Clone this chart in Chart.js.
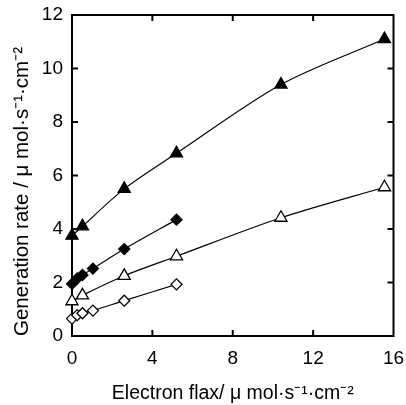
<!DOCTYPE html>
<html>
<head>
<meta charset="utf-8">
<script src="https://cdn.jsdelivr.net/npm/chart.js@4/dist/chart.umd.min.js"></script>
<style>
  html, body { margin: 0; padding: 0; background: #fff; }
  #box { width: 406px; height: 405px; }
</style>
</head>
<body>
<div id="box"><canvas id="grafico" width="406" height="405"></canvas></div>
<script>
// valores
const fluxoTriangulo = [0, 0.52, 2.6, 5.2, 10.4, 15.55];
const fluxoLosango = [0, 0.26, 0.52, 1.04, 2.6, 5.2];

const trianguloCheio = [3.75, 4.1, 5.5, 6.83, 9.4, 11.1];
const trianguloVazio = [1.3, 1.52, 2.25, 2.98, 4.42, 5.56];
const losangoCheio = [1.95, 2.15, 2.28, 2.52, 3.25, 4.35];
const losangoVazio = [0.65, 0.78, 0.85, 0.95, 1.32, 1.93];

const ticksX = [0, 4, 8, 12, 16];
const ticksY = [0, 2, 4, 6, 8, 10, 12];

const tituloX = 'Electron flax/ \u03bc mol\u00b7s\u207b\u00b9\u00b7cm\u207b\u00b2';
const tituloY = 'Generation rate / \u03bc mol\u00b7s\u207b\u00b9\u00b7cm\u207b\u00b2';

const fonte = 'Arial, "Liberation Sans", sans-serif';

function pontos(xs, ys) {
  return xs.map((x, i) => ({ x, y: ys[i] }));
}

function serie(xs, ys, estilo, cheio, raio) {
  return {
    data: pontos(xs, ys),
    borderColor: '#000',
    borderWidth: 1.2,
    tension: 0.3,
    pointStyle: estilo,
    pointRadius: raio,
    pointBackgroundColor: cheio ? '#000' : '#fff',
    pointBorderColor: '#000',
    pointBorderWidth: 1.3,
    clip: false
  };
}

// moldura e marcas de escala para dentro, nos quatro lados
const moldura = {
  id: 'moldura',
  beforeDatasetsDraw(chart) {
    const { ctx, chartArea: a, scales: { x, y } } = chart;
    const len = 6;
    ctx.save();
    ctx.strokeStyle = '#000';
    ctx.lineWidth = 2;
    ctx.strokeRect(a.left, a.top, a.right - a.left, a.bottom - a.top);
    ctx.beginPath();
    ticksX.slice(1, -1).forEach(v => {
      const px = x.getPixelForValue(v);
      ctx.moveTo(px, a.bottom); ctx.lineTo(px, a.bottom - len);
      ctx.moveTo(px, a.top); ctx.lineTo(px, a.top + len);
    });
    ticksY.slice(1, -1).forEach(v => {
      const py = y.getPixelForValue(v);
      ctx.moveTo(a.left, py); ctx.lineTo(a.left + len, py);
      ctx.moveTo(a.right, py); ctx.lineTo(a.right - len, py);
    });
    ctx.stroke();
    ctx.restore();
  }
};

new Chart(document.getElementById('grafico'), {
  type: 'line',
  data: {
    datasets: [
      serie(fluxoTriangulo, trianguloCheio, 'triangle', true, 7),
      serie(fluxoLosango, losangoCheio, 'rectRot', true, 5.5),
      serie(fluxoTriangulo, trianguloVazio, 'triangle', false, 7),
      serie(fluxoLosango, losangoVazio, 'rectRot', false, 5.5)
    ]
  },
  options: {
    responsive: false,
    animation: false,
    layout: { padding: { left: 0, top: 15, right: 12.5, bottom: 0 } },
    plugins: { legend: { display: false }, tooltip: { enabled: false } },
    scales: {
      x: {
        type: 'linear',
        min: 0, max: 16,
        afterFit: s => { s.height = 69; s.paddingLeft = 0; s.paddingRight = 0; },
        afterBuildTicks: s => { s.ticks = ticksX.map(v => ({ value: v })); },
        grid: { display: false, drawTicks: false },
        border: { display: false },
        ticks: { color: '#000', padding: 11, font: { family: fonte, size: 19 } },
        title: { display: true, text: tituloX, color: '#000', padding: { top: 0, bottom: 0 }, font: { family: fonte, size: 19.5 } }
      },
      y: {
        type: 'linear',
        min: 0, max: 12,
        afterFit: s => { s.width = 72; s.paddingTop = 0; s.paddingBottom = 0; },
        afterBuildTicks: s => { s.ticks = ticksY.map(v => ({ value: v })); },
        grid: { display: false, drawTicks: false },
        border: { display: false },
        ticks: { color: '#000', padding: 9, font: { family: fonte, size: 19 } },
        title: { display: true, text: tituloY, align: 'start', color: '#000', padding: { top: 10.5, bottom: 0 }, font: { family: fonte, size: 20.5 } }
      }
    }
  },
  plugins: [moldura]
});
</script>
</body>
</html>
